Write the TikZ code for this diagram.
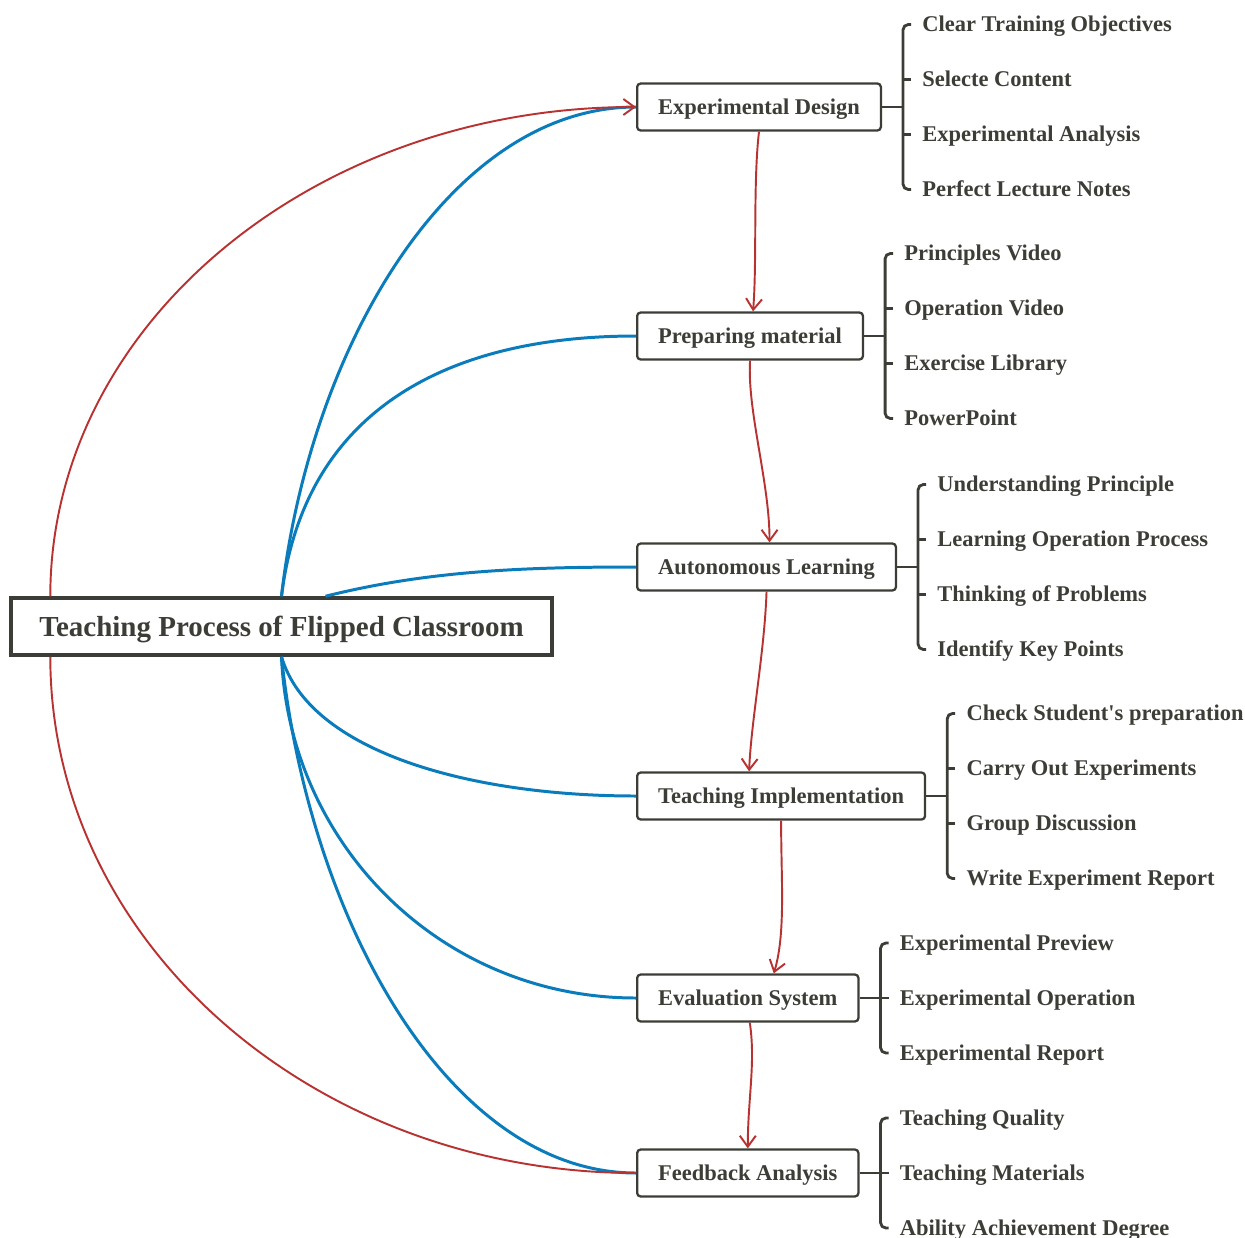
\documentclass[tikz,border=0pt]{standalone}
\usepackage{fontspec}
\setmainfont{Liberation Serif}
\usetikzlibrary{arrows.meta, positioning, calc}
\definecolor{inkgray}{HTML}{3D3D38}
\definecolor{linkred}{HTML}{B83232}
\definecolor{linkblue}{HTML}{0A7CBC}

\tikzset{
    topic/.style={draw=inkgray, line width=2pt, fill=white, text=inkgray,
        font=\fontsize{16.5}{19}\selectfont\bfseries, text height=10.9pt, text depth=0pt,
        minimum width=10.82cm, minimum height=1.14cm},
    stage/.style={draw=inkgray, line width=1.3pt, rounded corners=2pt, fill=white, text=inkgray,
        font=\fontsize{12.8}{15}\selectfont\bfseries, text height=8.5pt, text depth=0pt,
        inner xsep=0.42cm, minimum height=0.94cm, anchor=west},
    leaf/.style={text=inkgray, font=\fontsize{12.8}{15}\selectfont\bfseries,
        text height=8.5pt, text depth=0pt, inner xsep=0.22cm, inner ysep=0pt, anchor=west},
    brk/.style={draw=inkgray, line width=1.6pt},
    flow/.style={draw=linkred, line width=1.1pt, -{Straight Barb[length=2.2mm, width=3.2mm]}},
    link/.style={draw=linkblue, line width=1.7pt}
}

\begin{document}
\begin{tikzpicture}[x=0.02cm, y=-0.02cm]
    \useasboundingbox (0,0) rectangle (1245,1238);

    % Central topic
    \node[topic] (main) at (281.5,626.5) {Teaching Process of Flipped Classroom};

    % Stages
    \node[stage] (ed) at (636,107) {Experimental Design};
    \node[stage] (pm) at (636,336) {Preparing material};
    \node[stage] (al) at (636,567) {Autonomous Learning};
    \node[stage] (ti) at (636,796) {Teaching Implementation};
    \node[stage] (es) at (636,998) {Evaluation System};
    \node[stage] (fa) at (636,1173) {Feedback Analysis};

    % Leaves
    \foreach \t [count=\i] in {Clear Training Objectives, Selecte Content, Experimental Analysis, Perfect Lecture Notes}
        \node[leaf] (ed\i) at ($(ed.east)+(29,-137.5+55*\i)$) {\t};
    \foreach \t [count=\i] in {Principles Video, Operation Video, Exercise Library, PowerPoint}
        \node[leaf] (pm\i) at ($(pm.east)+(29,-137.5+55*\i)$) {\t};
    \foreach \t [count=\i] in {Understanding Principle, Learning Operation Process, Thinking of Problems, Identify Key Points}
        \node[leaf] (al\i) at ($(al.east)+(29,-137.5+55*\i)$) {\t};
    \foreach \t [count=\i] in {Check Student\textquotesingle s preparation, Carry Out Experiments, Group Discussion, Write Experiment Report}
        \node[leaf] (ti\i) at ($(ti.east)+(29,-137.5+55*\i)$) {\t};
    \foreach \t [count=\i] in {Experimental Preview, Experimental Operation, Experimental Report}
        \node[leaf] (es\i) at ($(es.east)+(29,-110+55*\i)$) {\t};
    \foreach \t [count=\i] in {Teaching Quality, Teaching Materials, Ability Achievement Degree}
        \node[leaf] (fa\i) at ($(fa.east)+(29,-110+55*\i)$) {\t};

    % Brackets
    \foreach \g/\n in {ed/4, pm/4, al/4, ti/4, es/3, fa/3} {
        \pgfmathtruncatemacro\m{\n-1}
        \draw[brk] (\g.east) -- ++(21,0);
        \draw[brk, rounded corners=3pt] (\g1.west) -| ($(\g.east)+(21,0)$) |- (\g\n.west);
        \foreach \i in {2,...,\m}
            \draw[brk] (\g\i.west) -- ++(-8,0);
    }

    % Blue links
    \draw[link] (main.north) .. controls +(28,-248) and +(-186,0) .. (ed.west);
    \draw[link] (main.north) .. controls +(23,-188) and +(-186,0) .. (pm.west);
    \draw[link] ($(main.north)+(44,0)$) .. controls +(100,-25) and +(-116,0) .. (al.west);
    \draw[link] (main.south) .. controls +(28,95) and +(-166,0) .. (ti.west);
    \draw[link] (main.south) .. controls +(8,189) and +(-194,0) .. (es.west);
    \draw[link] (main.south) .. controls +(28,265) and +(-186,0) .. (fa.west);

    % Red outer arcs
    \draw[flow] ($(main.north west)+(41,0)$) .. controls +(0,-271) and +(-323,0) .. (ed.west);
    \draw[linkred, line width=1.1pt] ($(main.south west)+(41,0)$) .. controls +(0,286) and +(-322,0) .. (fa.west);

    % Red steps
    \draw[flow] (ed.south) .. controls +(-6,50) and +(4,-50) .. ($(pm.north)+(3,0)$);
    \draw[flow] (pm.south) .. controls +(-3,50) and +(0,-60) .. ($(al.north)+(3,0)$);
    \draw[flow] (al.south) .. controls +(-2,60) and +(2,-50) .. ($(ti.north)+(-32,0)$);
    \draw[flow] (ti.south) .. controls +(0,60) and +(12,-40) .. ($(es.north)+(26,0)$);
    \draw[flow] ($(es.south)+(2,0)$) .. controls +(6,40) and +(0,-50) .. (fa.north);
\end{tikzpicture}
\end{document}
